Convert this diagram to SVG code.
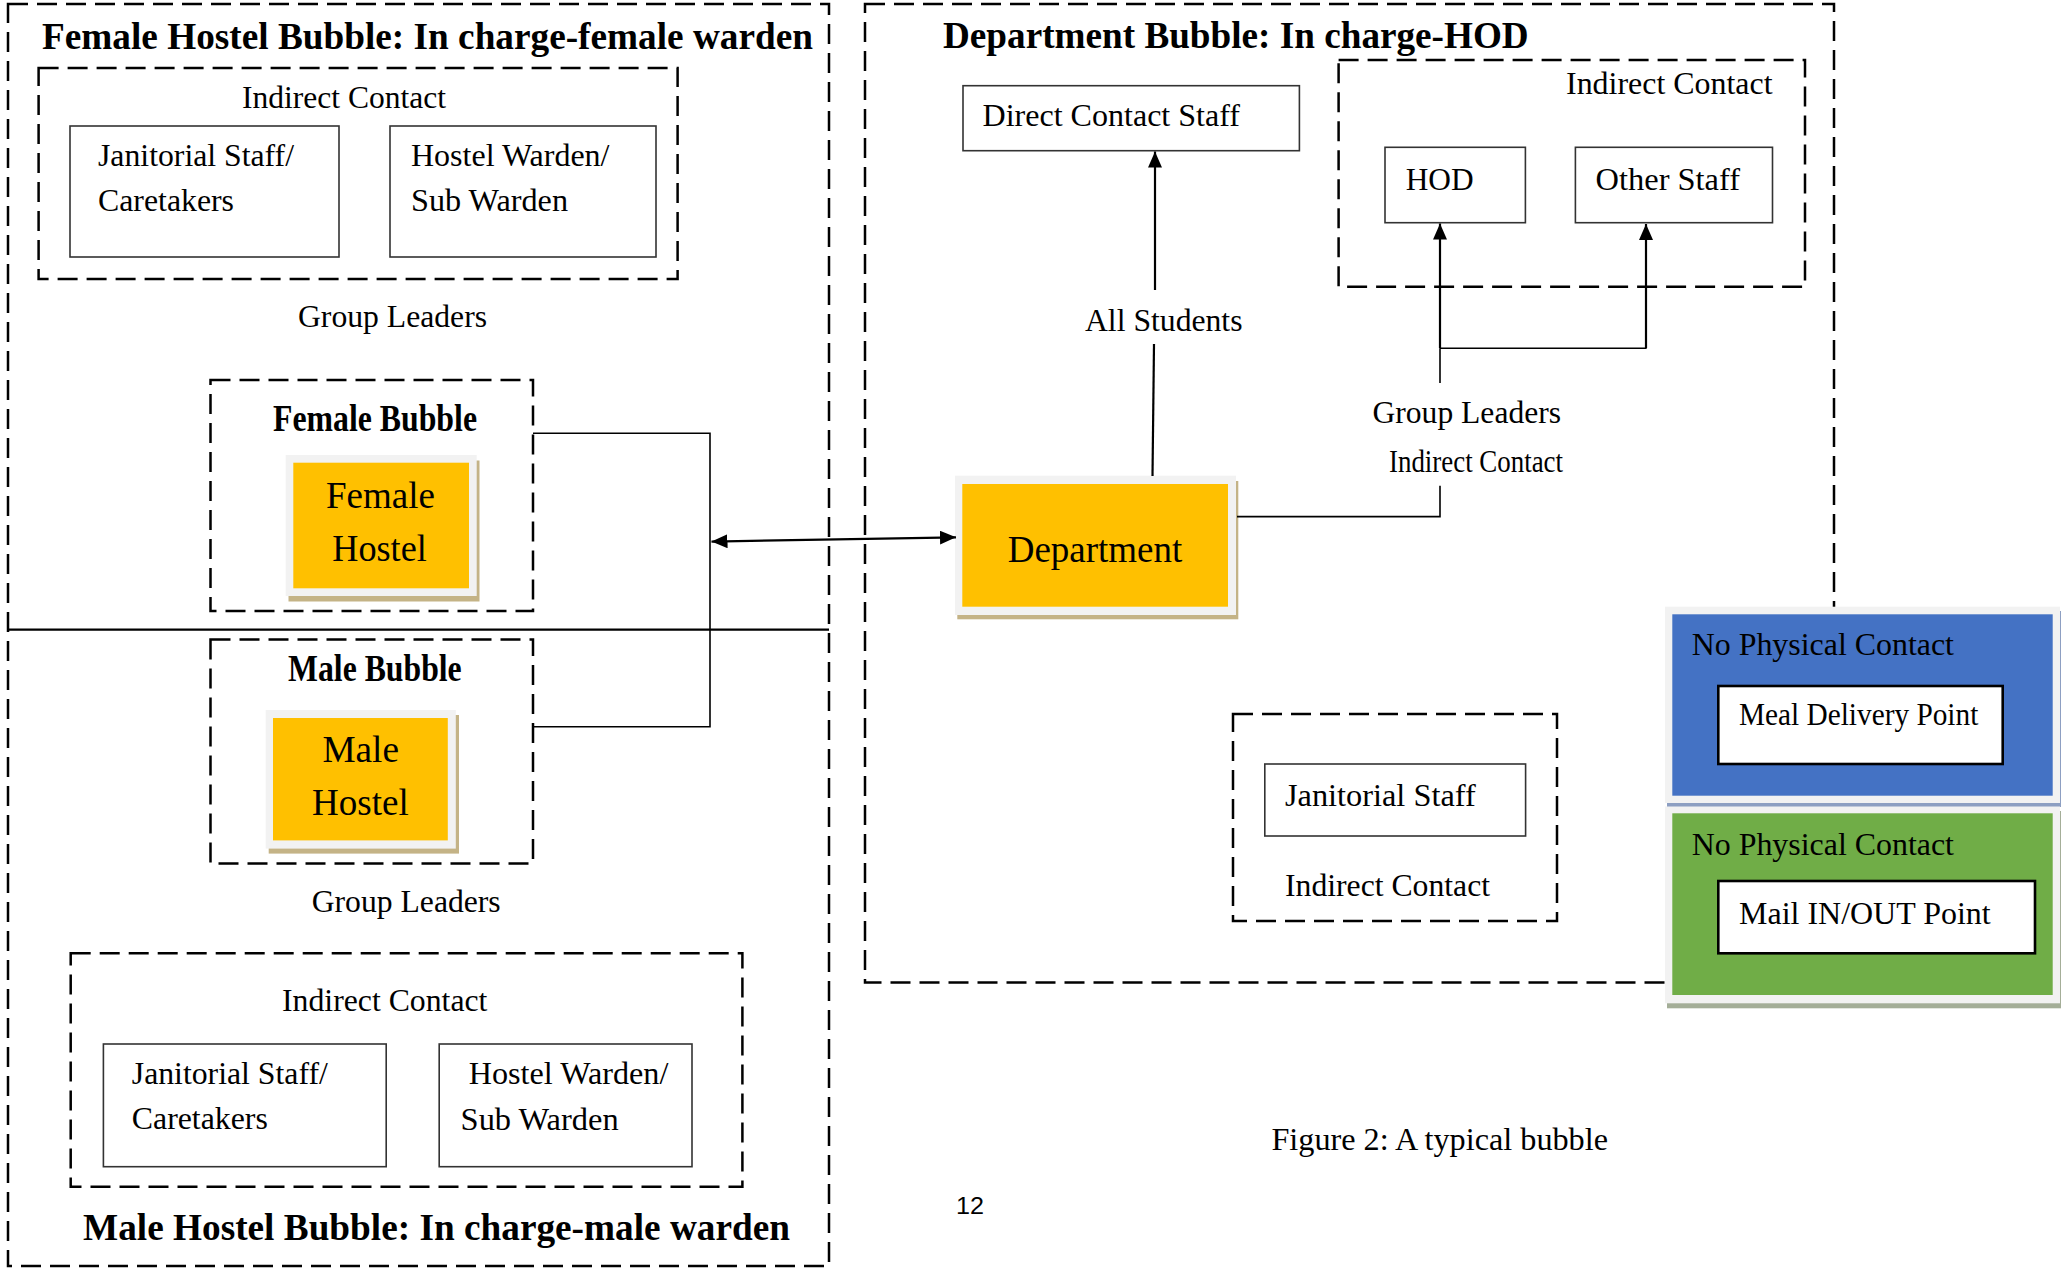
<svg xmlns="http://www.w3.org/2000/svg" width="2061" height="1268" viewBox="0 0 2061 1268">
  <defs>
    <style>
      .dash { fill: none; stroke: #000; stroke-width: 2.5; stroke-dasharray: 20 9; }
      .box { fill: #fff; stroke: #333; stroke-width: 1.6; }
      .wbox { fill: #fff; stroke: #000; stroke-width: 2.6; }
      .conn { fill: none; stroke: #000; stroke-width: 1.6; }
      .connb { fill: none; stroke: #000; stroke-width: 2.2; }
      .t { font-family: "Liberation Serif", "Times New Roman", serif; font-size: 32px; fill: #000; }
      .tb { font-family: "Liberation Serif", "Times New Roman", serif; font-size: 37px; font-weight: bold; fill: #000; }
      .tn { font-family: "Liberation Serif", "Times New Roman", serif; font-size: 37px; fill: #000; }
      .frame { fill: #f2f2f2; }
      .shadow { fill: #c4b386; }
      .yellow { fill: #ffc000; }
      .page { font-family: "Liberation Sans", Arial, sans-serif; font-size: 23px; fill: #000; }
    </style>
    <marker id="arrow" viewBox="0 0 16 14" refX="16" refY="7" markerWidth="16" markerHeight="14" markerUnits="userSpaceOnUse" orient="auto-start-reverse">
      <path d="M0,0 L16,7 L0,14 Z" fill="#000"/>
    </marker>
  </defs>

  <rect width="2061" height="1268" fill="#fff"/>

  <!-- Hostel bubbles (female above, male below) -->
  <g id="hostel-bubble">
    <rect class="dash" x="8" y="4" width="821" height="1262"/>
    <line x1="8" y1="629.6" x2="829" y2="629.6" stroke="#000" stroke-width="2.4"/>
    <text class="tb" x="42" y="49" textLength="771" lengthAdjust="spacingAndGlyphs">Female Hostel Bubble: In charge-female warden</text>
    <text class="tb" x="83" y="1240" textLength="707" lengthAdjust="spacingAndGlyphs">Male Hostel Bubble: In charge-male warden</text>
  </g>

  <g id="female-indirect">
    <rect class="dash" x="38.6" y="68" width="639" height="211"/>
    <text class="t" x="242" y="108" textLength="204" lengthAdjust="spacingAndGlyphs">Indirect Contact</text>
  </g>
  <g id="female-janitorial">
    <rect class="box" x="70" y="126" width="269" height="131"/>
    <text class="t" x="98" y="166" textLength="196" lengthAdjust="spacingAndGlyphs">Janitorial Staff/</text>
    <text class="t" x="98" y="211" textLength="136" lengthAdjust="spacingAndGlyphs">Caretakers</text>
  </g>
  <g id="female-warden">
    <rect class="box" x="390" y="126" width="266" height="131"/>
    <text class="t" x="411" y="166" textLength="198.5" lengthAdjust="spacingAndGlyphs">Hostel Warden/</text>
    <text class="t" x="411" y="211" textLength="157" lengthAdjust="spacingAndGlyphs">Sub Warden</text>
  </g>
  <text id="female-group-leaders" class="t" x="298" y="327" textLength="189" lengthAdjust="spacingAndGlyphs">Group Leaders</text>

  <g id="female-bubble">
    <rect class="dash" x="210.5" y="380" width="322.5" height="231"/>
    <text class="tb" x="273" y="430.5" font-size="32" textLength="204" lengthAdjust="spacingAndGlyphs">Female Bubble</text>
  </g>
  <g id="female-hostel">
    <rect class="shadow" x="288.5" y="460.5" width="191" height="141"/>
    <rect class="frame" x="285.7" y="455" width="191" height="141"/>
    <rect class="yellow" x="293.3" y="462.7" width="175.7" height="125.6"/>
    <text class="tn" x="326" y="507.5" textLength="109" lengthAdjust="spacingAndGlyphs">Female</text>
    <text class="tn" x="332.3" y="561" textLength="94.5" lengthAdjust="spacingAndGlyphs">Hostel</text>
  </g>

  <g id="male-bubble">
    <rect class="dash" x="210.5" y="639.6" width="322.5" height="224"/>
    <text class="tb" x="288" y="680.5" font-size="32" textLength="173.7" lengthAdjust="spacingAndGlyphs">Male Bubble</text>
  </g>
  <g id="male-hostel">
    <rect class="shadow" x="268.7" y="715" width="190.3" height="138.6"/>
    <rect class="frame" x="265.7" y="710" width="190.1" height="138.6"/>
    <rect class="yellow" x="273" y="718" width="174.8" height="122.4"/>
    <text class="tn" x="322.4" y="762" textLength="76.6" lengthAdjust="spacingAndGlyphs">Male</text>
    <text class="tn" x="312" y="815" textLength="96.7" lengthAdjust="spacingAndGlyphs">Hostel</text>
  </g>
  <text id="male-group-leaders" class="t" x="311.7" y="912" textLength="189" lengthAdjust="spacingAndGlyphs">Group Leaders</text>

  <g id="male-indirect">
    <rect class="dash" x="70.7" y="953.3" width="671.7" height="233.4"/>
    <text class="t" x="282" y="1011" textLength="205.4" lengthAdjust="spacingAndGlyphs">Indirect Contact</text>
  </g>
  <g id="male-janitorial">
    <rect class="box" x="103.4" y="1044" width="282.8" height="122.7"/>
    <text class="t" x="131.8" y="1083.7" textLength="196" lengthAdjust="spacingAndGlyphs">Janitorial Staff/</text>
    <text class="t" x="131.8" y="1129" textLength="136" lengthAdjust="spacingAndGlyphs">Caretakers</text>
  </g>
  <g id="male-warden">
    <rect class="box" x="439.2" y="1044" width="252.8" height="122.7"/>
    <text class="t" x="468.7" y="1083.7" textLength="199.7" lengthAdjust="spacingAndGlyphs">Hostel Warden/</text>
    <text class="t" x="460.6" y="1130.3" textLength="158" lengthAdjust="spacingAndGlyphs">Sub Warden</text>
  </g>

  <!-- Department bubble -->
  <g id="department-bubble">
    <rect class="dash" x="865" y="4" width="969" height="978.5"/>
    <text class="tb" x="943" y="48.4" textLength="585.7" lengthAdjust="spacingAndGlyphs">Department Bubble: In charge-HOD</text>
  </g>
  <g id="direct-contact-staff">
    <rect class="box" x="963" y="85.7" width="336.4" height="65"/>
    <text class="t" x="982.5" y="126.3" textLength="257.5" lengthAdjust="spacingAndGlyphs">Direct Contact Staff</text>
  </g>
  <g id="dept-indirect">
    <rect class="dash" x="1338.6" y="60" width="466.4" height="226.7"/>
    <text class="t" x="1566" y="94" textLength="206.5" lengthAdjust="spacingAndGlyphs">Indirect Contact</text>
  </g>
  <g id="hod">
    <rect class="box" x="1385" y="147.3" width="140.4" height="75.4"/>
    <text class="t" x="1405.7" y="189.5" textLength="68" lengthAdjust="spacingAndGlyphs">HOD</text>
  </g>
  <g id="other-staff">
    <rect class="box" x="1575.4" y="147.3" width="197.1" height="75.4"/>
    <text class="t" x="1595.6" y="189.5" textLength="144.4" lengthAdjust="spacingAndGlyphs">Other Staff</text>
  </g>
  <text id="all-students" class="t" x="1085" y="330.6" textLength="157.5" lengthAdjust="spacingAndGlyphs">All Students</text>
  <text id="dept-group-leaders" class="t" x="1372.5" y="423.4" textLength="188.5" lengthAdjust="spacingAndGlyphs">Group Leaders</text>
  <text id="dept-group-indirect" class="t" x="1389" y="471.6" font-size="27" textLength="174" lengthAdjust="spacingAndGlyphs">Indirect Contact</text>

  <g id="department">
    <rect class="shadow" x="957.3" y="481" width="281" height="138.3"/>
    <rect class="frame" x="955" y="475.7" width="281" height="139.3"/>
    <rect class="yellow" x="962.3" y="484" width="265.7" height="122.7"/>
    <text class="tn" x="1007.7" y="561.5" textLength="174.6" lengthAdjust="spacingAndGlyphs">Department</text>
  </g>

  <g id="dept-janitorial">
    <rect class="dash" x="1233" y="714" width="324" height="207"/>
    <rect class="box" x="1264.8" y="764" width="260.8" height="72"/>
    <text class="t" x="1285" y="806.3" textLength="190.7" lengthAdjust="spacingAndGlyphs">Janitorial Staff</text>
    <text class="t" x="1285" y="896.3" textLength="205" lengthAdjust="spacingAndGlyphs">Indirect Contact</text>
  </g>

  <!-- No-contact points -->
  <g id="meal-delivery">
    <rect x="1667" y="611" width="394" height="196" fill="#8d9fc2"/>
    <rect class="frame" x="1665" y="606.7" width="395" height="196.3"/>
    <rect x="1672.3" y="614.3" width="380.4" height="181.4" fill="#4472c4"/>
    <text class="t" x="1691.7" y="655.3" textLength="262.3" lengthAdjust="spacingAndGlyphs">No Physical Contact</text>
    <rect class="wbox" x="1718.3" y="686" width="284.4" height="78"/>
    <text class="t" x="1739" y="725.3" font-size="29.5" textLength="239.3" lengthAdjust="spacingAndGlyphs">Meal Delivery Point</text>
  </g>
  <g id="mail-point">
    <rect x="1667" y="811" width="394" height="197.3" fill="#a4ae98"/>
    <rect class="frame" x="1665" y="806.5" width="395" height="196.8"/>
    <rect x="1672.3" y="813.3" width="380.4" height="181.7" fill="#70ad47"/>
    <text class="t" x="1691.7" y="854.7" textLength="262.3" lengthAdjust="spacingAndGlyphs">No Physical Contact</text>
    <rect class="wbox" x="1718.3" y="881" width="316.7" height="72.3"/>
    <text class="t" x="1739" y="923.7" textLength="251.7" lengthAdjust="spacingAndGlyphs">Mail IN/OUT Point</text>
  </g>

  <!-- Connectors -->
  <g id="connectors">
    <polyline class="conn" points="533,433.2 710,433.2 710,726.8 533,726.8"/>
    <line class="connb" x1="711.5" y1="541.6" x2="956" y2="537.3" marker-start="url(#arrow)" marker-end="url(#arrow)"/>
    <line class="connb" x1="1152.5" y1="476" x2="1154" y2="344"/>
    <line class="connb" x1="1155" y1="290" x2="1155" y2="151.5" marker-end="url(#arrow)"/>
    <line class="conn" x1="1440" y1="383" x2="1440" y2="348.3"/>
    <line class="connb" x1="1440" y1="348.3" x2="1440" y2="223.5" marker-end="url(#arrow)"/>
    <line class="connb" x1="1646" y1="348.3" x2="1646" y2="224" marker-end="url(#arrow)"/>
    <line class="conn" x1="1440" y1="348.3" x2="1646.5" y2="348.3"/>
    <polyline class="conn" points="1237,516.6 1440,516.6 1440,485.7"/>
  </g>

  <text id="caption" class="t" x="1271.4" y="1150.3" textLength="336.6" lengthAdjust="spacingAndGlyphs">Figure 2: A typical bubble</text>
  <text id="page-number" class="page" x="956" y="1213.7" textLength="28" lengthAdjust="spacingAndGlyphs">12</text>
</svg>
